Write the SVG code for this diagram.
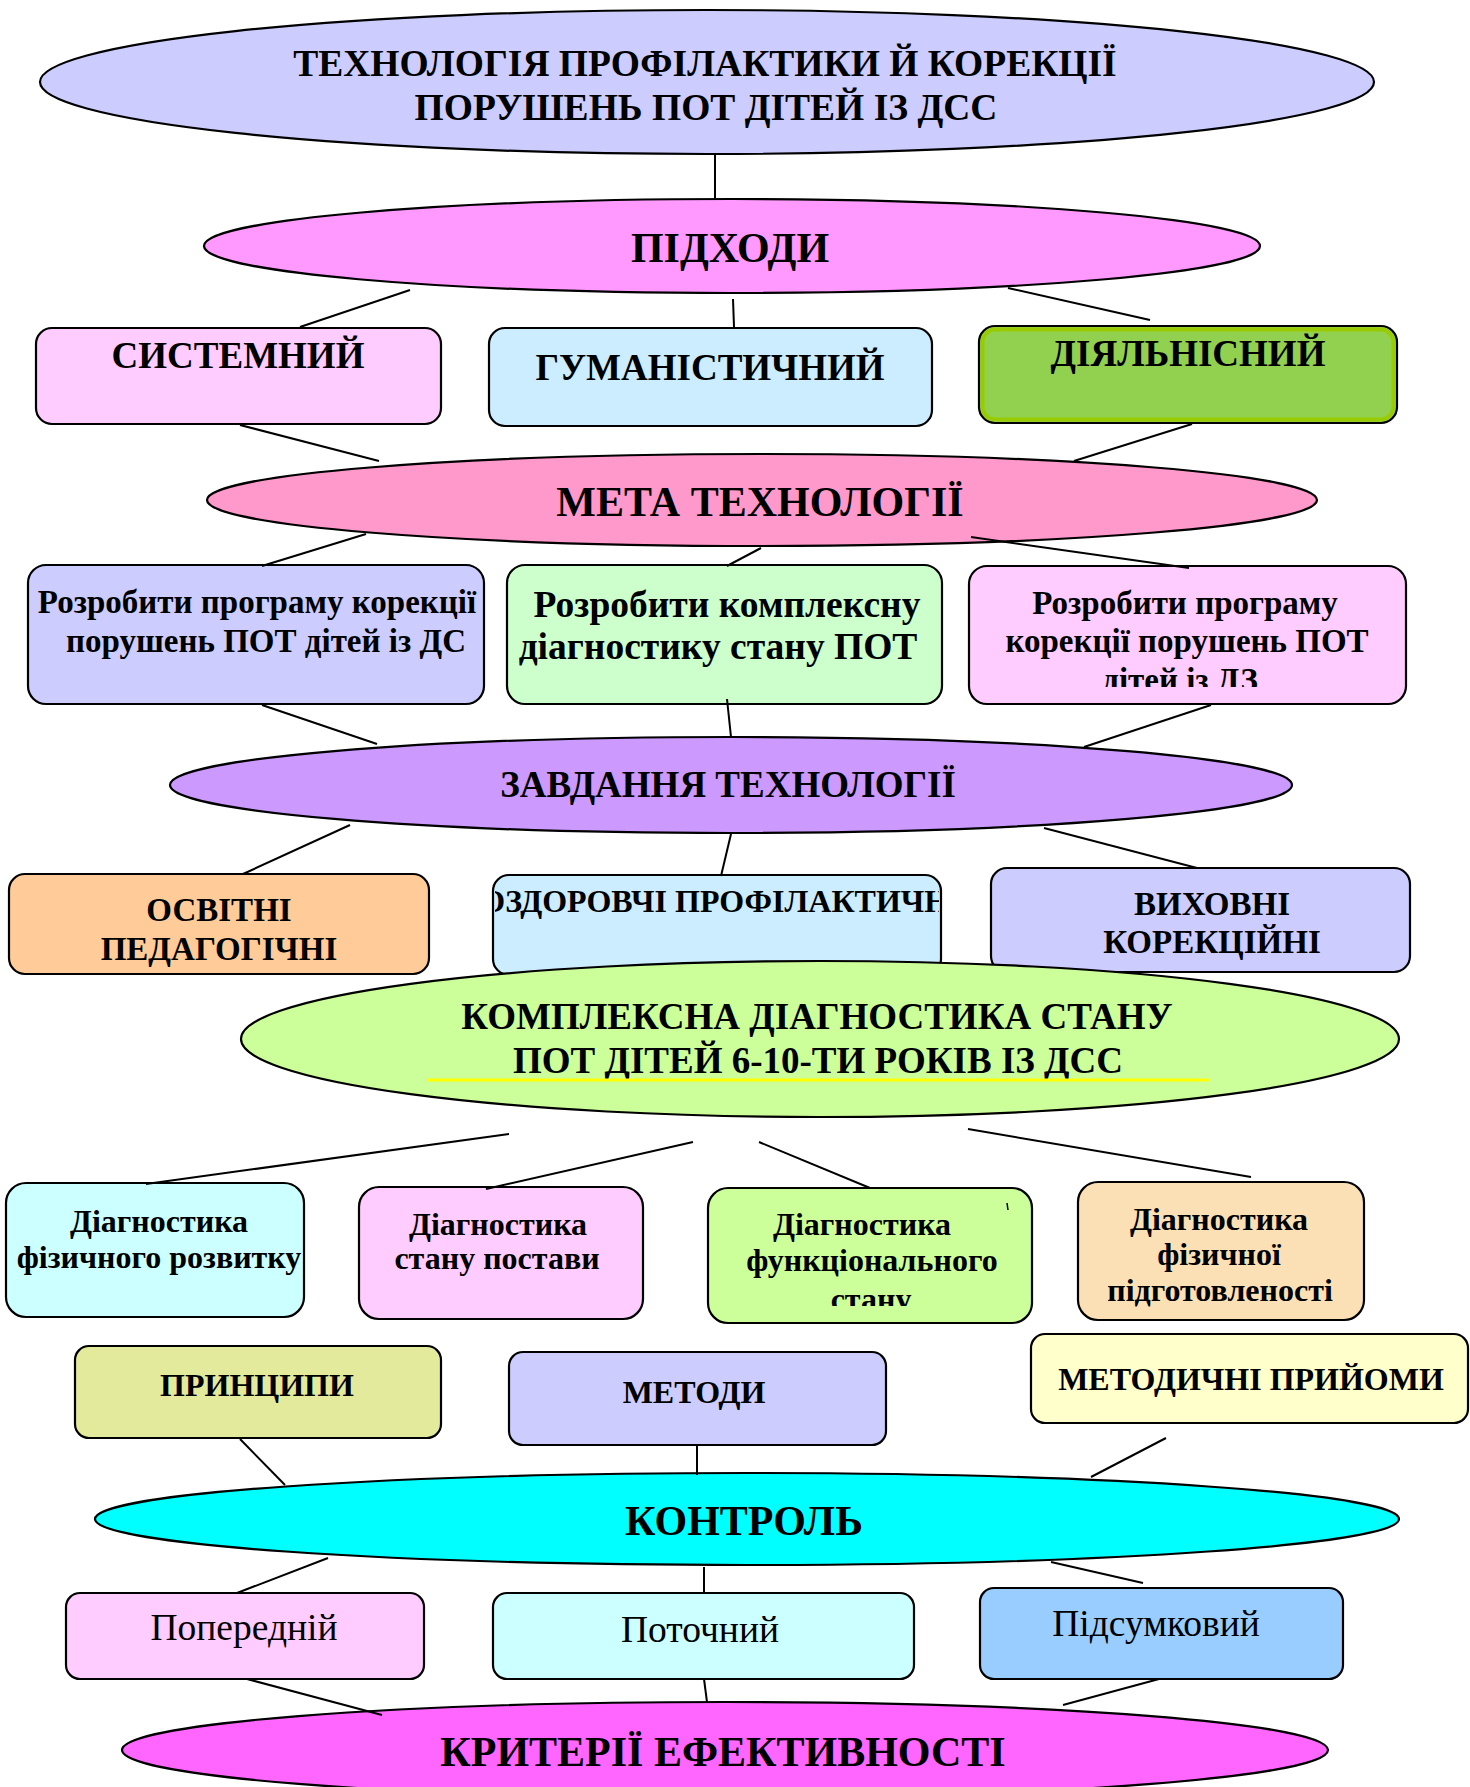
<svg xmlns="http://www.w3.org/2000/svg" width="1470" height="1787" viewBox="0 0 1470 1787">
<style>
.n{stroke:#000;stroke-width:2.2}
.t{font-family:"Liberation Serif","Times New Roman",serif;font-weight:bold;fill:#000;text-anchor:middle}
.r{font-family:"Liberation Serif","Times New Roman",serif;font-weight:normal;fill:#000;text-anchor:middle}
.c{stroke:#000;stroke-width:2;fill:none}
</style>
<defs>
<clipPath id="clipC"><rect x="969" y="566" width="437" height="121"/></clipPath>
<clipPath id="clipOz"><rect x="495" y="875" width="444" height="100"/></clipPath>
<clipPath id="clipD1"><rect x="6" y="1183" width="296" height="134"/></clipPath>
<clipPath id="clipD3"><rect x="708" y="1188" width="324" height="118"/></clipPath>
<clipPath id="clipA"><rect x="28" y="565" width="455" height="139"/></clipPath>
</defs>
<rect width="1470" height="1787" fill="#fff"/>

<g id="title">
<ellipse class="n" cx="707" cy="82" rx="667" ry="72" fill="#ccccff"/>
<text class="t" x="705" y="76" font-size="37.5">ТЕХНОЛОГІЯ ПРОФІЛАКТИКИ Й КОРЕКЦІЇ</text>
<text class="t" x="706" y="120" font-size="37.5">ПОРУШЕНЬ ПОТ ДІТЕЙ ІЗ ДСС</text>
</g>
<g id="pidkhody">
<ellipse class="n" cx="732" cy="246" rx="528" ry="47" fill="#ff99ff"/>
<text class="t" x="730" y="262" font-size="42">ПІДХОДИ</text>
</g>
<g id="systemnyi">
<rect class="n" x="36" y="328" width="405" height="96" rx="16" fill="#ffccff"/>
<text class="t" x="238" y="368" font-size="37">СИСТЕМНИЙ</text>
</g>
<g id="humanistychnyi">
<rect class="n" x="489" y="328" width="443" height="98" rx="16" fill="#ccecff"/>
<text class="t" x="710" y="380" font-size="37">ГУМАНІСТИЧНИЙ</text>
</g>
<g id="diialnisnyi">
<rect class="n" x="979" y="326" width="418" height="97" rx="16" fill="#92d050"/>
<rect x="982.5" y="329.5" width="411" height="90" rx="13" fill="none" stroke="#99cc00" stroke-width="4"/>
<text class="t" x="1188" y="366" font-size="37">ДІЯЛЬНІСНИЙ</text>
</g>
<g id="meta">
<ellipse class="n" cx="762" cy="500" rx="555" ry="46" fill="#ff99cc"/>
<text class="t" x="760" y="516" font-size="42">МЕТА ТЕХНОЛОГІЇ</text>
</g>
<g id="meta1">
<rect class="n" x="28" y="565" width="456" height="139" rx="18" fill="#ccccff"/>
<g clip-path="url(#clipA)">
<text class="t" x="257" y="613" font-size="33">Розробити програму корекції</text>
<text class="t" x="266" y="652" font-size="33">порушень ПОТ дітей із ДС</text>
</g>
</g>
<g id="meta2">
<rect class="n" x="507" y="565" width="435" height="139" rx="18" fill="#ccffcc"/>
<text class="t" x="727" y="617" font-size="37.5">Розробити комплексну</text>
<text class="t" x="718" y="659" font-size="37.5">діагностику стану ПОТ</text>
</g>
<g id="meta3">
<rect class="n" x="969" y="566" width="437" height="138" rx="18" fill="#ffccff"/>
<g clip-path="url(#clipC)">
<text class="t" x="1185" y="614" font-size="33">Розробити програму</text>
<text class="t" x="1187" y="652" font-size="33">корекції порушень ПОТ</text>
<text class="t" x="1180" y="691" font-size="33">дітей із ДЗ</text>
</g>
</g>
<g id="zavdannia">
<ellipse class="n" cx="731" cy="785" rx="561" ry="48" fill="#cc99ff"/>
<text class="t" x="728" y="797" font-size="37">ЗАВДАННЯ ТЕХНОЛОГІЇ</text>
</g>
<g id="osvitni">
<rect class="n" x="9" y="874" width="420" height="100" rx="16" fill="#ffcc99"/>
<text class="t" x="219" y="921" font-size="33">ОСВІТНІ</text>
<text class="t" x="219" y="960" font-size="33">ПЕДАГОГІЧНІ</text>
</g>
<g id="ozdorovchi">
<rect class="n" x="493" y="875" width="448" height="100" rx="16" fill="#ccecff"/>
<g clip-path="url(#clipOz)">
<text class="t" x="721" y="912" font-size="32">ОЗДОРОВЧІ ПРОФІЛАКТИЧНІ</text>
</g>
</g>
<g id="vykhovni">
<rect class="n" x="991" y="868" width="419" height="104" rx="16" fill="#ccccff"/>
<text class="t" x="1212" y="915" font-size="33">ВИХОВНІ</text>
<text class="t" x="1212" y="953" font-size="33">КОРЕКЦІЙНІ</text>
</g>
<g id="kompleksna">
<ellipse class="n" cx="820" cy="1039" rx="579" ry="78" fill="#ccff99"/>
<text class="t" x="817" y="1029" font-size="37">КОМПЛЕКСНА ДІАГНОСТИКА СТАНУ</text>
<text class="t" x="818" y="1073" font-size="37">ПОТ ДІТЕЙ 6-10-ТИ РОКІВ ІЗ ДСС</text>
<line x1="427" y1="1080" x2="1210" y2="1080" stroke="#ffff00" stroke-width="3"/>
</g>
<g id="diag1">
<rect class="n" x="6" y="1183" width="298" height="134" rx="20" fill="#ccffff"/>
<g clip-path="url(#clipD1)">
<text class="t" x="159" y="1232" font-size="32">Діагностика</text>
<text class="t" x="159" y="1268" font-size="32">фізичного розвитку</text>
</g>
</g>
<g id="diag2">
<rect class="n" x="359" y="1187" width="284" height="132" rx="20" fill="#ffccff"/>
<text class="t" x="498" y="1235" font-size="32">Діагностика</text>
<text class="t" x="497" y="1269" font-size="32">стану постави</text>
</g>
<g id="diag3">
<rect class="n" x="708" y="1188" width="324" height="135" rx="20" fill="#ccff99"/>
<line x1="1007" y1="1203" x2="1008" y2="1210" stroke="#000" stroke-width="1.5"/>
<g clip-path="url(#clipD3)">
<text class="t" x="862" y="1235" font-size="32">Діагностика</text>
<text class="t" x="872" y="1271" font-size="32">функціонального</text>
<text class="t" x="871" y="1310" font-size="32">стану</text>
</g>
</g>
<g id="diag4">
<rect class="n" x="1078" y="1182" width="286" height="138" rx="20" fill="#fbe0b6"/>
<text class="t" x="1219" y="1230" font-size="32">Діагностика</text>
<text class="t" x="1219" y="1265" font-size="32">фізичної</text>
<text class="t" x="1220" y="1301" font-size="32">підготовленості</text>
</g>
<g id="pryntsypy">
<rect class="n" x="75" y="1346" width="366" height="92" rx="14" fill="#e4ea9c"/>
<text class="t" x="257" y="1396" font-size="32">ПРИНЦИПИ</text>
</g>
<g id="metody">
<rect class="n" x="509" y="1352" width="377" height="93" rx="14" fill="#ccccff"/>
<text class="t" x="694" y="1403" font-size="32">МЕТОДИ</text>
</g>
<g id="pryiomy">
<rect class="n" x="1031" y="1334" width="437" height="89" rx="14" fill="#ffffcc"/>
<text class="t" x="1251" y="1390" font-size="32">МЕТОДИЧНІ ПРИЙОМИ</text>
</g>
<g id="kontrol">
<ellipse class="n" cx="747" cy="1519" rx="652" ry="46" fill="#00ffff"/>
<text class="t" x="744" y="1535" font-size="42">КОНТРОЛЬ</text>
</g>
<g id="poperednii">
<rect class="n" x="66" y="1593" width="358" height="86" rx="14" fill="#ffccff"/>
<text class="r" x="244" y="1640" font-size="37.5">Попередній</text>
</g>
<g id="potochnyi">
<rect class="n" x="493" y="1593" width="421" height="86" rx="14" fill="#ccffff"/>
<text class="r" x="700" y="1642" font-size="37.5">Поточний</text>
</g>
<g id="pidsumkovyi">
<rect class="n" x="980" y="1588" width="363" height="91" rx="14" fill="#99ccff"/>
<text class="r" x="1156" y="1636" font-size="37.5">Підсумковий</text>
</g>
<g id="kryterii">
<ellipse class="n" cx="725" cy="1750" rx="603" ry="48" fill="#ff66ff"/>
<text class="t" x="723" y="1766" font-size="42">КРИТЕРІЇ ЕФЕКТИВНОСТІ</text>
</g>

<g id="connectors" class="c">
<line x1="715" y1="154" x2="715" y2="199"/>
<line x1="410" y1="290" x2="300" y2="327"/>
<line x1="733" y1="299" x2="734" y2="327"/>
<line x1="1008" y1="288" x2="1150" y2="320"/>
<line x1="240" y1="425" x2="379" y2="461"/>
<line x1="1192" y1="424" x2="1074" y2="461"/>
<line x1="366" y1="534" x2="262" y2="566"/>
<line x1="761" y1="548" x2="727" y2="566"/>
<line x1="971" y1="537" x2="1189" y2="568"/>
<line x1="262" y1="705" x2="377" y2="744"/>
<line x1="727" y1="699" x2="731" y2="737"/>
<line x1="1211" y1="705" x2="1084" y2="747"/>
<line x1="350" y1="825" x2="243" y2="874"/>
<line x1="731" y1="834" x2="721" y2="876"/>
<line x1="1044" y1="828" x2="1197" y2="868"/>
<line x1="509" y1="1134" x2="146" y2="1184"/>
<line x1="693" y1="1142" x2="486" y2="1189"/>
<line x1="759" y1="1142" x2="870" y2="1188"/>
<line x1="968" y1="1129" x2="1251" y2="1177"/>
<line x1="240" y1="1439" x2="285" y2="1485"/>
<line x1="697" y1="1445" x2="697" y2="1475"/>
<line x1="1166" y1="1438" x2="1091" y2="1477"/>
<line x1="328" y1="1558" x2="237" y2="1593"/>
<line x1="704" y1="1567" x2="704" y2="1593"/>
<line x1="1051" y1="1562" x2="1143" y2="1583"/>
<line x1="247" y1="1679" x2="382" y2="1715"/>
<line x1="704" y1="1679" x2="707" y2="1702"/>
<line x1="1159" y1="1679" x2="1063" y2="1705"/>
</g>
</svg>
